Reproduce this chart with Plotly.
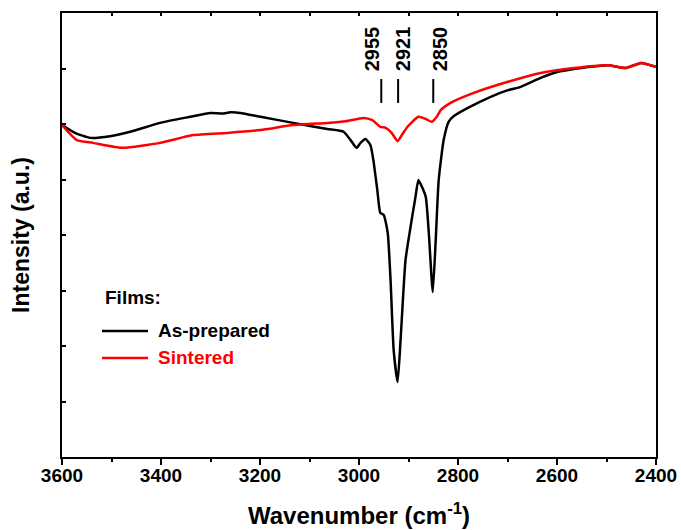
import plotly.graph_objects as go

# ---- data ----
as_prepared_wn = [3600, 3574, 3543, 3503, 3462, 3402, 3341, 3300, 3276, 3260, 3240, 3199, 3133,
                  3064, 3031, 3017, 3005, 2997, 2987, 2977, 2971, 2963, 2957, 2950, 2942, 2936,
                  2930, 2922, 2916, 2906, 2896, 2886, 2880, 2872, 2865, 2859, 2851, 2845, 2839,
                  2829, 2819, 2809, 2780, 2734, 2699, 2673, 2633, 2598, 2566, 2531, 2497, 2461,
                  2430, 2400]
as_prepared_int = [5.98, 5.84, 5.75, 5.78, 5.86, 6.02, 6.13, 6.20, 6.19, 6.21, 6.20, 6.13, 6.02,
                   5.91, 5.86, 5.71, 5.57, 5.66, 5.73, 5.62, 5.35, 4.81, 4.40, 4.36, 4.04, 3.14,
                   1.93, 1.35, 2.11, 3.55, 4.14, 4.68, 4.99, 4.85, 4.68, 4.04, 2.97, 3.91, 4.99,
                   5.71, 6.04, 6.14, 6.29, 6.49, 6.61, 6.67, 6.83, 6.94, 6.99, 7.03, 7.06, 7.01,
                   7.10, 7.03]

sintered_wn = [3600, 3570, 3537, 3477, 3402, 3335, 3266, 3199, 3133, 3064, 3027, 2991, 2973,
               2957, 2946, 2934, 2922, 2912, 2902, 2880, 2865, 2853, 2843, 2835, 2815, 2768,
               2699, 2633, 2566, 2497, 2461, 2430, 2400]
sintered_int = [5.98, 5.71, 5.66, 5.57, 5.66, 5.80, 5.84, 5.89, 5.98, 6.02, 6.05, 6.11, 6.07,
                5.95, 5.93, 5.84, 5.69, 5.82, 5.95, 6.13, 6.09, 6.04, 6.13, 6.25, 6.38, 6.56,
                6.76, 6.92, 7.01, 7.06, 7.01, 7.10, 7.03]

series_names = ["As-prepared", "Sintered"]
series_colors = ["#000000", "#FF0000"]
peak_labels = [2955, 2921, 2850]
x_ticks = [3600, 3400, 3200, 3000, 2800, 2600, 2400]

FONT = "Arial, Liberation Sans, sans-serif"

fig = go.Figure()
for name, xs, ys, col in zip(series_names, [as_prepared_wn, sintered_wn],
                             [as_prepared_int, sintered_int], series_colors):
    fig.add_trace(go.Scatter(x=xs, y=ys, mode="lines", name=name,
                             line=dict(color=col, width=2.5, shape="spline", smoothing=0.5),
                             showlegend=False))

# helper trace for the top axis
fig.add_trace(go.Scatter(x=as_prepared_wn, y=as_prepared_int, mode="none", xaxis="x2",
                         showlegend=False, hoverinfo="skip"))

# peak markers and labels
shifts = [-9, 5, 7]
for pk, sh in zip(peak_labels, shifts):
    fig.add_shape(type="line", x0=pk, x1=pk, y0=6.38, y1=6.81, xref="x", yref="y",
                  line=dict(color="black", width=2))
    fig.add_annotation(x=pk, y=7.35, xref="x", yref="y", text=str(pk), showarrow=False,
                       textangle=-90, xshift=sh,
                       font=dict(family=FONT, size=20, color="black", weight="bold"))

# manual legend
fig.add_annotation(x=0.069, y=0.360, xref="paper", yref="paper", text="Films:",
                   showarrow=False, xanchor="left", yanchor="middle",
                   font=dict(family=FONT, size=19, color="black", weight="bold"))
leg_y = [0.2838, 0.223]
for name, col, yy in zip(series_names, series_colors, leg_y):
    fig.add_shape(type="line", x0=0.0673, x1=0.1448, y0=yy, y1=yy, xref="paper", yref="paper",
                  line=dict(color=col, width=2.5))
    fig.add_annotation(x=0.158, y=yy, xref="paper", yref="paper", text=name, showarrow=False,
                       xanchor="left", yanchor="middle",
                       font=dict(family=FONT, size=19, color=col, weight="bold"))

fig.update_layout(
    width=681, height=530,
    margin=dict(l=62, r=25, t=13, b=73, autoexpand=False),
    plot_bgcolor="white", paper_bgcolor="white",
    font=dict(family=FONT, color="black"),
    xaxis=dict(range=[3600, 2400], tickvals=x_ticks, ticks="outside", ticklen=6, tickwidth=1.5,
               tickcolor="black", showline=True, linecolor="black", linewidth=2, mirror=True,
               showgrid=False, zeroline=False, automargin=False, ticklabelstandoff=-6,
               tickfont=dict(family=FONT, size=19, color="black", weight="bold"),
               minor=dict(dtick=100, ticks="outside", ticklen=3, tickcolor="black", tickwidth=1.5),
               title=dict(text="<b>Wavenumber (cm<sup>-1</sup>)</b>", standoff=22,
                          font=dict(family=FONT, size=24, color="black"))),
    xaxis2=dict(range=[3600, 2400], overlaying="x", side="top", dtick=100, tick0=2400,
                ticks="inside", ticklen=3, tickwidth=1.5, tickcolor="black", automargin=False,
                showticklabels=False, showgrid=False, zeroline=False, showline=False),
    yaxis=dict(range=[0, 8], dtick=1, ticks="inside", ticklen=4, tickwidth=1.5,
               tickcolor="black", showticklabels=False, showline=True, linecolor="black",
               linewidth=2, mirror=True, showgrid=False, zeroline=False, automargin=False,
               title=dict(text="<b>Intensity (a.u.)</b>", standoff=24,
                          font=dict(family=FONT, size=23, color="black"))),
)

fig.write_html("out.html", config={"displayModeBar": False},
               post_script="document.body.style.margin='0';document.body.style.padding='0';")
